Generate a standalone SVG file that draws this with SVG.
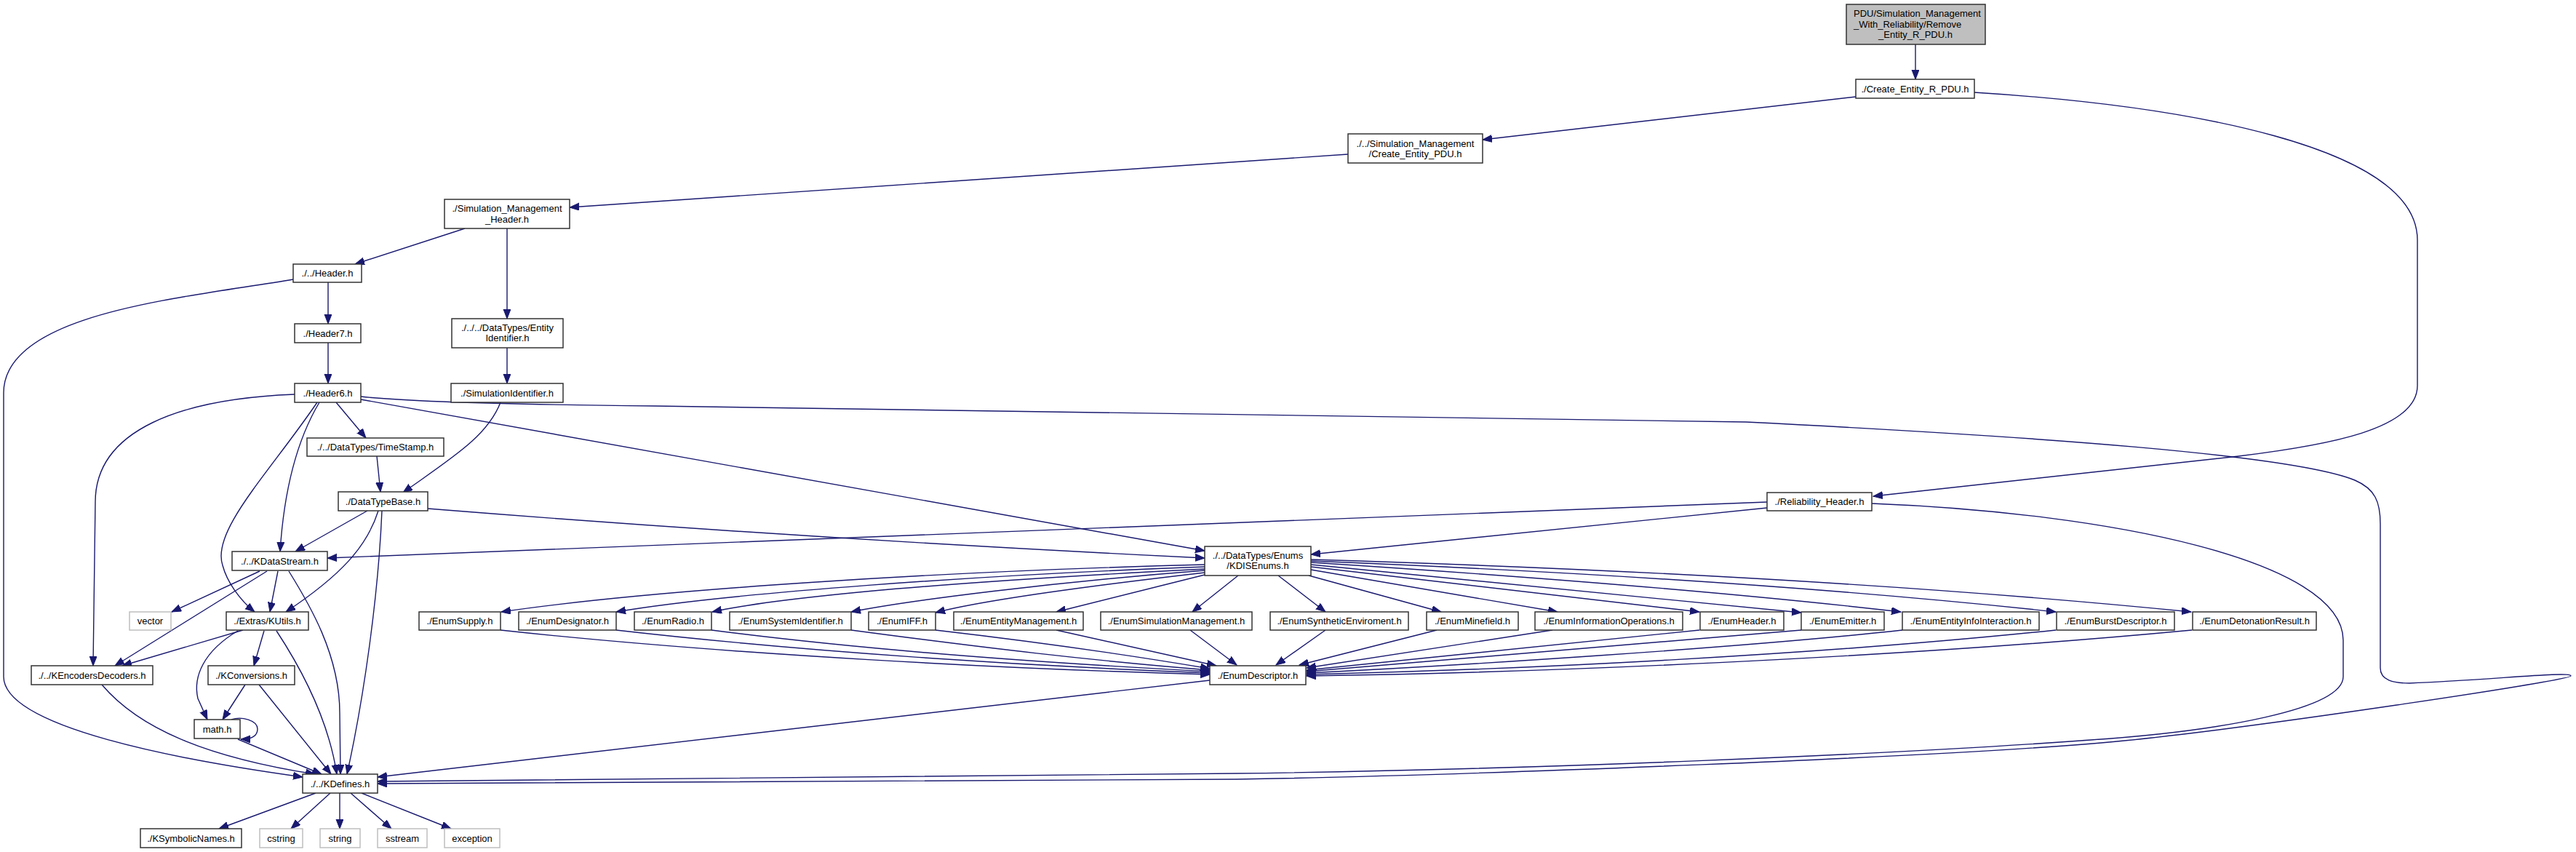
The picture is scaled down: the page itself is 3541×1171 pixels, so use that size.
<svg xmlns="http://www.w3.org/2000/svg" width="3541" height="1171" viewBox="0 0 3541 1171">
<style>
.n rect{fill:#fff;stroke:#333;stroke-width:1.5}
.g rect{fill:#fff;stroke:#bfbfbf;stroke-width:1.5}
.top rect{fill:#bfbfbf;stroke:#333;stroke-width:1.5}
text{font-family:"Liberation Sans",Arial,sans-serif;font-size:13px;fill:#000;text-anchor:middle}
.l{text-anchor:start}
#edges path{fill:none;stroke:#191970;stroke-width:1.4;marker-end:url(#ah)}
</style>
<defs>
<marker id="ah" markerWidth="14" markerHeight="11" refX="13" refY="5" orient="auto" markerUnits="userSpaceOnUse">
<path d="M0,0 L13,5 L0,10 z" fill="#191970" stroke="#191970" stroke-width="1"/>
</marker>
</defs>
<rect width="3541" height="1171" fill="#fff"/>
<g id="edges">
<path d="M2633,61 L2633,109"/>
<path d="M2551,133 L2038,192"/>
<path d="M2714,127 C3000,145 3323,200 3323,330 L3323,530 C3323,590 3200,612 3077,627 L2575,682"/>
<path d="M1853,212 L783,285"/>
<path d="M639,314 L488,363"/>
<path d="M697,314 L697,438"/>
<path d="M697,478 L697,527"/>
<path d="M451,388 L451,445"/>
<path d="M451,471 L451,527"/>
<path d="M403,384 C250,410 5,430 5,540 L5,930 C5,1000 250,1045 416,1068"/>
<path d="M462,553 L503,602"/>
<path d="M439,553 C405,610 390,680 385,758"/>
<path d="M436,553 C370,650 290,730 306,777 C312,800 330,825 350,841"/>
<path d="M405,542 C250,548 131,590 131,690 L128,915"/>
<path d="M496,549 L1656,757"/>
<path d="M496,545 C560,552 700,556 900,558 L2400,580 C2800,600 3150,625 3237,660 C3265,672 3272,690 3272,720 L3272,918 C3272,935 3290,939 3312,939 C3420,935 3534,922 3534,929 C3534,935 3100,1000 2920,1018 C2700,1040 2000,1066 1700,1071 L519,1077"/>
<path d="M688,553 C670,600 620,630 554,677"/>
<path d="M518,627 L523,676"/>
<path d="M505,702 L406,758"/>
<path d="M520,702 C505,750 470,790 393,841"/>
<path d="M525,702 C520,820 500,960 477,1064"/>
<path d="M588,699 Q1100,740 1656,767"/>
<path d="M357,785 L236,841"/>
<path d="M367,785 L158,915"/>
<path d="M382,785 L371,841"/>
<path d="M397,785 C425,830 467,900 467,980 L468,1064"/>
<path d="M334,866 L168,915"/>
<path d="M327,867 C280,895 265,930 272,960 L285,989"/>
<path d="M363,867 L349,915"/>
<path d="M380,867 C405,905 450,980 463,1064"/>
<path d="M140,941 C190,1000 280,1040 433,1064"/>
<path d="M337,941 L306,989"/>
<path d="M356,941 L455,1064"/>
<path d="M318,989 C332,984 354,990 354,1002 C354,1012 346,1016 331,1016"/>
<path d="M327,1016 L442,1064"/>
<path d="M434,1090 L301,1139"/>
<path d="M454,1090 L400,1139"/>
<path d="M467,1090 L467,1139"/>
<path d="M482,1090 L538,1139"/>
<path d="M497,1090 L620,1139"/>
<path d="M2429,690 L450,767"/>
<path d="M2429,698 L1802,762"/>
<path d="M2573,692 C2900,705 3221,770 3221,880 L3221,930 C3221,975 3050,1005 2874,1017 C2600,1037 2100,1058 1700,1063 L519,1074"/>
<path d="M1656,776 C1300,785 900,810 689,841"/>
<path d="M1656,779 C1350,790 1000,815 847,841"/>
<path d="M1656,782 C1400,795 1100,815 979,841"/>
<path d="M1656,784 C1450,800 1250,825 1170,841"/>
<path d="M1656,787 C1500,805 1350,825 1286,842"/>
<path d="M1656,790 L1452,841"/>
<path d="M1702,791 L1639,841"/>
<path d="M1757,791 L1822,841"/>
<path d="M1799,791 L1981,841"/>
<path d="M1802,783 L2141,841"/>
<path d="M1802,779 L2336,841"/>
<path d="M1802,776 L2476,842"/>
<path d="M1802,773 Q2300,805 2613,841"/>
<path d="M1802,771 Q2400,795 2826,841"/>
<path d="M1802,769 Q2500,790 3012,841"/>
<path d="M688,866 C1000,900 1400,920 1663,927"/>
<path d="M847,866 C1100,895 1400,915 1663,925"/>
<path d="M978,866 C1200,895 1450,912 1663,923"/>
<path d="M1170,866 C1350,890 1500,908 1663,921"/>
<path d="M1286,866 C1450,885 1580,905 1663,919"/>
<path d="M1452,866 L1672,915"/>
<path d="M1636,866 L1700,914"/>
<path d="M1822,866 L1754,914"/>
<path d="M1975,866 L1786,914"/>
<path d="M2134,866 L1796,918"/>
<path d="M2336,866 L1796,921"/>
<path d="M2476,866 L1796,923"/>
<path d="M2615,866 C2400,890 2000,915 1796,925"/>
<path d="M2826,866 C2500,900 2100,920 1796,927"/>
<path d="M3013,866 C2600,905 2100,925 1796,929"/>
<path d="M1663,935 L519,1068"/>
</g>
<g id="n_top" class="top"><rect x="2538" y="6" width="191" height="55"/><text class="l" x="2548" y="22.5">PDU/Simulation_Management</text><text class="l" x="2548" y="37.5">_With_Reliability/Remove</text><text x="2633" y="51.5">_Entity_R_PDU.h</text></g>
<g id="n_create_r" class="n"><rect x="2551" y="109" width="163" height="26"/><text x="2632.5" y="126.5">./Create_Entity_R_PDU.h</text></g>
<g id="n_create_pdu" class="n"><rect x="1853" y="184" width="185" height="40"/><text x="1945.5" y="201.5">./../Simulation_Management</text><text x="1945.5" y="215.5">/Create_Entity_PDU.h</text></g>
<g id="n_simmgmt" class="n"><rect x="611" y="274" width="172" height="40"/><text x="697" y="290.5">./Simulation_Management</text><text x="697" y="305.5">_Header.h</text></g>
<g id="n_header" class="n"><rect x="403" y="363" width="94" height="25"/><text x="450" y="380">./../Header.h</text></g>
<g id="n_header7" class="n"><rect x="405" y="445" width="91" height="26"/><text x="450.5" y="462.5">./Header7.h</text></g>
<g id="n_header6" class="n"><rect x="405" y="527" width="91" height="26"/><text x="450.5" y="544.5">./Header6.h</text></g>
<g id="n_entityid" class="n"><rect x="621" y="438" width="153" height="40"/><text x="697.5" y="454.5">./../../DataTypes/Entity</text><text x="697.5" y="468.5">Identifier.h</text></g>
<g id="n_simid" class="n"><rect x="620" y="527" width="154" height="26"/><text x="697" y="544.5">./SimulationIdentifier.h</text></g>
<g id="n_timestamp" class="n"><rect x="422" y="602" width="188" height="25"/><text x="516" y="619">./../DataTypes/TimeStamp.h</text></g>
<g id="n_datatypebase" class="n"><rect x="465" y="676" width="123" height="26"/><text x="526.5" y="693.5">./DataTypeBase.h</text></g>
<g id="n_kdatastream" class="n"><rect x="319" y="758" width="131" height="26"/><text x="384.5" y="775.5">./../KDataStream.h</text></g>
<g id="n_vector" class="g"><rect x="178" y="841" width="57" height="25"/><text x="206.5" y="858">vector</text></g>
<g id="n_kutils" class="n"><rect x="311" y="841" width="113" height="25"/><text x="367.5" y="858">./Extras/KUtils.h</text></g>
<g id="n_kencdec" class="n"><rect x="43" y="915" width="167" height="26"/><text x="126.5" y="932.5">./../KEncodersDecoders.h</text></g>
<g id="n_kconv" class="n"><rect x="286" y="915" width="119" height="26"/><text x="345.5" y="932.5">./KConversions.h</text></g>
<g id="n_math" class="n"><rect x="267" y="989" width="63" height="26"/><text x="298.5" y="1006.5">math.h</text></g>
<g id="n_kdefines" class="n"><rect x="416" y="1064" width="103" height="26"/><text x="467.5" y="1081.5">./../KDefines.h</text></g>
<g id="n_ksym" class="n"><rect x="193" y="1139" width="139" height="26"/><text x="262.5" y="1156.5">./KSymbolicNames.h</text></g>
<g id="n_cstring" class="g"><rect x="357" y="1139" width="59" height="26"/><text x="386.5" y="1156.5">cstring</text></g>
<g id="n_string" class="g"><rect x="440" y="1139" width="55" height="26"/><text x="467.5" y="1156.5">string</text></g>
<g id="n_sstream" class="g"><rect x="519" y="1139" width="68" height="26"/><text x="553" y="1156.5">sstream</text></g>
<g id="n_exception" class="g"><rect x="611" y="1139" width="76" height="26"/><text x="649" y="1156.5">exception</text></g>
<g id="n_reliability" class="n"><rect x="2429" y="677" width="144" height="25"/><text x="2501" y="694">./Reliability_Header.h</text></g>
<g id="n_kdisenums" class="n"><rect x="1656" y="751" width="146" height="40"/><text x="1729" y="767.5">./../DataTypes/Enums</text><text x="1729" y="781.5">/KDISEnums.h</text></g>
<g id="n_enumsupply" class="n"><rect x="576" y="841" width="112" height="25"/><text x="632" y="858">./EnumSupply.h</text></g>
<g id="n_enumdesignator" class="n"><rect x="713" y="841" width="134" height="25"/><text x="780" y="858">./EnumDesignator.h</text></g>
<g id="n_enumradio" class="n"><rect x="872" y="841" width="106" height="25"/><text x="925" y="858">./EnumRadio.h</text></g>
<g id="n_enumsysid" class="n"><rect x="1003" y="841" width="167" height="25"/><text x="1086.5" y="858">./EnumSystemIdentifier.h</text></g>
<g id="n_enumiff" class="n"><rect x="1194" y="841" width="92" height="25"/><text x="1240" y="858">./EnumIFF.h</text></g>
<g id="n_enumentmgmt" class="n"><rect x="1311" y="841" width="178" height="25"/><text x="1400" y="858">./EnumEntityManagement.h</text></g>
<g id="n_enumsimmgmt" class="n"><rect x="1513" y="841" width="208" height="25"/><text x="1617" y="858">./EnumSimulationManagement.h</text></g>
<g id="n_enumsynth" class="n"><rect x="1746" y="841" width="190" height="25"/><text x="1841" y="858">./EnumSyntheticEnviroment.h</text></g>
<g id="n_enummine" class="n"><rect x="1961" y="841" width="126" height="25"/><text x="2024" y="858">./EnumMinefield.h</text></g>
<g id="n_enuminfoops" class="n"><rect x="2110" y="841" width="203" height="25"/><text x="2211.5" y="858">./EnumInformationOperations.h</text></g>
<g id="n_enumheader" class="n"><rect x="2337" y="841" width="115" height="25"/><text x="2394.5" y="858">./EnumHeader.h</text></g>
<g id="n_enumemitter" class="n"><rect x="2476" y="841" width="114" height="25"/><text x="2533" y="858">./EnumEmitter.h</text></g>
<g id="n_enumeii" class="n"><rect x="2615" y="841" width="188" height="25"/><text x="2709" y="858">./EnumEntityInfoInteraction.h</text></g>
<g id="n_enumburst" class="n"><rect x="2827" y="841" width="162" height="25"/><text x="2908" y="858">./EnumBurstDescriptor.h</text></g>
<g id="n_enumdet" class="n"><rect x="3014" y="841" width="170" height="25"/><text x="3099" y="858">./EnumDetonationResult.h</text></g>
<g id="n_enumdesc" class="n"><rect x="1663" y="915" width="132" height="26"/><text x="1729" y="932.5">./EnumDescriptor.h</text></g>
</svg>
